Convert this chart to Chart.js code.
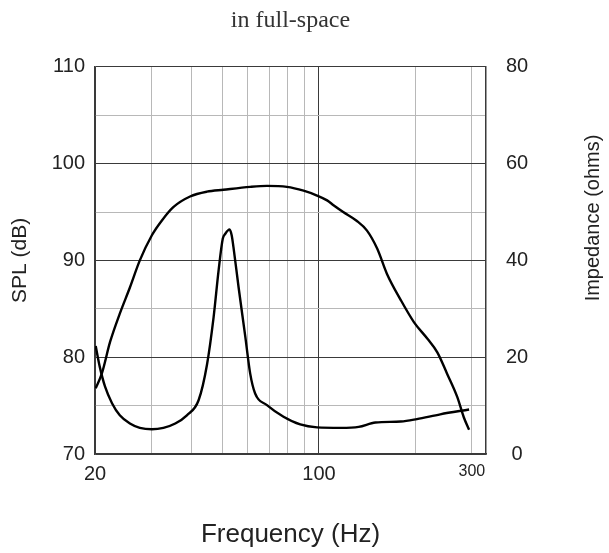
<!DOCTYPE html>
<html lang="en">

<head>
    <meta charset="UTF-8">
    <title>SPL and Impedance</title>
    <script src="https://cdn.jsdelivr.net/npm/chart.js"></script>
    <style>
        body {
            margin: 0;
            padding: 0;
            background: #fff;
        }

        canvas {
            display: block;
        }
    </style>
</head>

<body>
    <canvas id="myChart" width="609" height="553"></canvas>

    <script>
        // SPL curve (dB)
        const splFreq = [20.1, 21.0, 22.3, 23.9, 25.7, 27.6, 30.1, 32.3, 35.1, 39.6, 44.7, 50.3, 61, 68.8, 79.4, 89.5, 98.6, 106, 111, 119, 131, 141, 152, 163, 180, 198, 218, 234, 251, 270, 283, 294];
        const splDb = [76.8, 78.3, 81.6, 84.5, 87.2, 90.0, 92.6, 94.1, 95.5, 96.6, 97.1, 97.3, 97.6, 97.7, 97.6, 97.2, 96.7, 96.2, 95.7, 95.0, 94.1, 93.1, 91.2, 88.6, 85.9, 83.6, 81.9, 80.5, 78.3, 75.9, 73.8, 72.5];

        // impedance curve (ohms)
        const impFreq = [20.1, 20.7, 21.5, 22.6, 23.9, 25.7, 27.6, 30.1, 32.7, 35.6, 38.7, 42.1, 44.7, 46.9, 48.6, 50.1, 51.0, 52.6, 53.4, 54.1, 56.1, 58.9, 61.0, 63.2, 68.8, 77.5, 87.4, 98.6, 117, 133, 150, 180, 202, 239, 294];
        const impOhm = [22.3, 18.0, 13.9, 10.5, 8.0, 6.3, 5.4, 5.1, 5.4, 6.3, 8.0, 11.1, 18.4, 28.3, 37.9, 44.5, 45.5, 46.4, 45.2, 42.7, 34.5, 24.2, 16.6, 12.5, 10.1, 7.7, 6.1, 5.5, 5.4, 5.6, 6.5, 6.7, 7.2, 8.2, 9.2];

        const xGridValues = [20, 30, 40, 50, 60, 70, 80, 90, 100, 200, 300];
        const xTickLabels = [20, 100, 300];

        const chartTitle = 'in full-space';
        const xTitle = 'Frequency (Hz)';
        const yTitle = 'SPL (dB)';
        const y1Title = 'Impedance (ohms)';

        const light = '#b8b8b8';
        const dark = '#3a3a3a';

        Chart.defaults.font.family = "'Liberation Sans', Arial, sans-serif";
        Chart.defaults.color = '#222';

        // right-hand title reads bottom to top like the left one
        const rightTitle = {
            id: 'rightTitle',
            afterDraw(chart) {
                const ctx = chart.ctx;
                ctx.save();
                ctx.translate(593, 218);
                ctx.rotate(-Math.PI / 2);
                ctx.font = "20px 'Liberation Sans', Arial, sans-serif";
                ctx.fillStyle = '#222';
                ctx.textAlign = 'center';
                ctx.textBaseline = 'middle';
                ctx.fillText(y1Title, 0, 0);
                ctx.restore();
            }
        };

        const ctx = document.getElementById('myChart').getContext('2d');

        const chart = new Chart(ctx, {
            type: 'line',
            data: {
                datasets: [{
                    label: 'SPL',
                    data: splFreq.map((f, i) => ({ x: f, y: splDb[i] })),
                    yAxisID: 'y',
                    borderColor: '#000',
                    borderWidth: 2.4,
                    pointRadius: 0,
                    cubicInterpolationMode: 'monotone'
                }, {
                    label: 'Impedance',
                    data: impFreq.map((f, i) => ({ x: f, y: impOhm[i] })),
                    yAxisID: 'y1',
                    borderColor: '#000',
                    borderWidth: 2.4,
                    pointRadius: 0,
                    cubicInterpolationMode: 'monotone'
                }]
            },
            options: {
                responsive: false,
                animation: false,
                layout: { padding: 0 },
                plugins: {
                    legend: { display: false },
                    tooltip: { enabled: false },
                    title: {
                        display: true,
                        text: chartTitle,
                        fullSize: false,
                        color: '#333',
                        font: { family: "'Liberation Serif', 'Times New Roman', serif", size: 24, weight: 'normal' },
                        padding: { top: 6, bottom: 32 }
                    }
                },
                scales: {
                    x: {
                        type: 'logarithmic',
                        min: 20,
                        max: 332,
                        afterBuildTicks: scale => {
                            scale.ticks = xGridValues.map(v => ({ value: v }));
                        },
                        afterFit: scale => { scale.height = 99; },
                        ticks: {
                            autoSkip: false,
                            maxRotation: 0,
                            padding: 8,
                            callback: v => xTickLabels.includes(v) ? String(v) : '',
                            font: c => ({ size: c.tick && c.tick.value === 300 ? 16 : 20 })
                        },
                        grid: {
                            drawTicks: false,
                            color: c => (c.tick && (c.tick.value === 100 || c.tick.value === 20)) ? dark : light,
                            lineWidth: 1
                        },
                        border: { color: dark, width: 1.5 },
                        title: {
                            display: true,
                            text: xTitle,
                            font: { size: 26 },
                            padding: { top: 0, bottom: 3 }
                        }
                    },
                    y: {
                        position: 'left',
                        min: 70,
                        max: 110,
                        afterFit: scale => { scale.width = 95; },
                        ticks: {
                            stepSize: 5,
                            autoSkip: false,
                            padding: 10,
                            font: { size: 20 },
                            callback: v => v % 10 === 0 ? String(v) : ''
                        },
                        grid: {
                            drawTicks: false,
                            color: c => (c.tick && c.tick.value % 10 === 0) ? dark : light,
                            lineWidth: 1
                        },
                        border: { color: dark, width: 1.5 },
                        title: {
                            display: true,
                            text: yTitle,
                            font: { size: 21 },
                            padding: { top: 8, bottom: 0 }
                        }
                    },
                    y1: {
                        position: 'right',
                        min: 0,
                        max: 80,
                        afterFit: scale => { scale.width = 123; },
                        ticks: {
                            stepSize: 20,
                            crossAlign: 'center',
                            padding: 20,
                            font: { size: 20 }
                        },
                        grid: { drawOnChartArea: false, drawTicks: false },
                        border: { color: dark, width: 1.5 }
                    }
                }
            },
            plugins: [rightTitle]
        });
    </script>

</body>

</html>
